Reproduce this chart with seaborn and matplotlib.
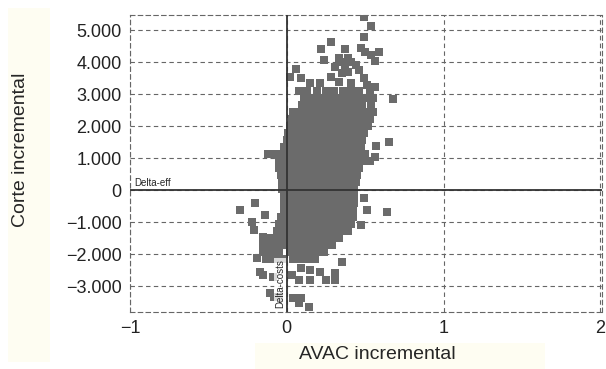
#Librerie
import numpy as np
import pandas as pd
import matplotlib.pyplot as plt
import seaborn as sns
from matplotlib.patches import Rectangle
from matplotlib.ticker import FuncFormatter

#Dati: nuvola centrale per righe (y) e punti sparsi
row_y = [3090, 2880, 2660, 2440, 2220, 2000, 1780, 1560, 1340, 1120, 900, 690,
         470, 250, 30, -190, -410, -620, -840, -1060, -1280, -1500, -1720, -1940, -2160]
row_x = [
    [0.08, 0.13, 0.19, 0.25, 0.30, 0.36, 0.41, 0.46, 0.53],
    [0.11, 0.16, 0.21, 0.26, 0.31, 0.36, 0.40, 0.45, 0.50, 0.55],
    [0.10, 0.14, 0.19, 0.24, 0.29, 0.33, 0.38, 0.43, 0.48, 0.54],
    [0.04, 0.09, 0.14, 0.18, 0.23, 0.28, 0.32, 0.37, 0.42, 0.47, 0.51, 0.55],
    [0.03, 0.07, 0.12, 0.17, 0.21, 0.26, 0.31, 0.35, 0.40, 0.45, 0.49, 0.53],
    [0.02, 0.06, 0.11, 0.15, 0.20, 0.25, 0.30, 0.34, 0.39, 0.43, 0.48, 0.52],
    [0.01, 0.06, 0.10, 0.15, 0.19, 0.24, 0.29, 0.33, 0.38, 0.42, 0.47, 0.49],
    [0.00, 0.05, 0.09, 0.14, 0.19, 0.23, 0.28, 0.32, 0.37, 0.41, 0.45, 0.48],
    [-0.02, 0.02, 0.07, 0.11, 0.16, 0.21, 0.25, 0.30, 0.34, 0.39, 0.43, 0.47],
    [-0.12, -0.09, -0.04, 0.01, 0.06, 0.10, 0.15, 0.19, 0.24, 0.29, 0.33, 0.38, 0.42, 0.46, 0.50],
    [-0.05, -0.01, 0.04, 0.08, 0.13, 0.18, 0.22, 0.27, 0.31, 0.36, 0.41, 0.45, 0.50, 0.53],
    [-0.05, 0.00, 0.05, 0.09, 0.14, 0.19, 0.23, 0.28, 0.32, 0.37, 0.42, 0.46],
    [-0.04, 0.01, 0.05, 0.10, 0.15, 0.19, 0.24, 0.28, 0.33, 0.38, 0.42, 0.45],
    [-0.03, 0.01, 0.06, 0.10, 0.15, 0.20, 0.24, 0.29, 0.33, 0.38, 0.42, 0.44],
    [-0.03, 0.02, 0.06, 0.11, 0.16, 0.20, 0.25, 0.29, 0.34, 0.39, 0.43],
    [-0.02, 0.02, 0.07, 0.11, 0.16, 0.21, 0.25, 0.30, 0.34, 0.39, 0.43],
    [-0.02, 0.03, 0.07, 0.12, 0.17, 0.21, 0.26, 0.30, 0.35, 0.40, 0.43],
    [-0.02, 0.02, 0.07, 0.11, 0.16, 0.21, 0.25, 0.30, 0.34, 0.39, 0.42],
    [-0.04, 0.01, 0.05, 0.10, 0.15, 0.19, 0.24, 0.28, 0.33, 0.38, 0.42],
    [-0.05, 0.00, 0.04, 0.09, 0.14, 0.18, 0.23, 0.27, 0.32, 0.37, 0.41],
    [-0.06, -0.02, 0.03, 0.08, 0.12, 0.17, 0.21, 0.26, 0.31, 0.35, 0.39],
    [-0.14, -0.10, -0.05, 0.00, 0.04, 0.09, 0.14, 0.18, 0.23, 0.28, 0.33],
    [-0.15, -0.11, -0.06, -0.01, 0.03, 0.08, 0.12, 0.17, 0.22, 0.26, 0.29],
    [-0.15, -0.10, -0.05, 0.02, 0.07, 0.11, 0.16, 0.20, 0.24],
    [-0.13, -0.08, -0.03, 0.04, 0.09, 0.14, 0.18],
]
sparse_x = [0.49, 0.54, 0.49, 0.28, 0.22, 0.37, 0.47, 0.50, 0.54, 0.59, 0.56, 0.33,
            0.39, 0.24, 0.31, 0.37, 0.44, 0.35, 0.39, 0.46, 0.06, 0.02, 0.09, 0.15,
            0.21, 0.28, 0.33, 0.41, 0.49, 0.51, 0.56, 0.68, 0.34, 0.41,
            0.65, 0.57, 0.56, 0.64, 0.49, 0.51, 0.47,
            -0.20, -0.14, -0.22, -0.21, -0.15, -0.30, -0.19, -0.14, -0.10, -0.17,
            -0.09, -0.11, -0.08, 0.09, 0.14, -0.15, 0.03, 0.09, 0.15, 0.21, 0.31,
            0.35, 0.08, 0.15, 0.25, 0.31, -0.05, 0.08, 0.04]
sparse_y = [5400, 5120, 4780, 4620, 4410, 4410, 4440, 4310, 4220, 4310, 4030, 4120,
            4120, 4060, 3840, 3910, 3910, 3660, 3690, 3750, 3780, 3530, 3500, 3340,
            3340, 3530, 3380, 3340, 3500, 3280, 3220, 2840, 4000, 4000,
            1500, 1380, 1030, -690, -250, -620, -1090,
            -410, -780, -1000, -1250, -1470, -620, -2120, -1880, -2090, -2560,
            -2720, -3220, -3340, -3380, -3660, -2660, -2660, -2440, -2500, -2560, -2590,
            -2250, -2810, -2810, -2810, -2810, -3340, -3530, -3380]

x_ticks = [-1, 0, 1, 2]
y_ticks = [-3000, -2000, -1000, 0, 1000, 2000, 3000, 4000, 5000]

avac = [x for xs in row_x for x in xs] + sparse_x
corte = [y for y, xs in zip(row_y, row_x) for _ in xs] + sparse_y
df = pd.DataFrame({'avac': avac, 'corte': corte})

sns.set_style('white')
plt.rcParams['font.family'] = ['Liberation Sans', 'DejaVu Sans']

fig = plt.figure(figsize=(6.06, 3.69), dpi=100)
#fondino crema delle etichette
fig.patches.append(Rectangle((8/606, 1-362/369), 42/606, 354/369, transform=fig.transFigure,
                             facecolor='#fefdf2', edgecolor='none', zorder=-1))
fig.patches.append(Rectangle((255/606, 0), 290/606, 26/369, transform=fig.transFigure,
                             facecolor='#fefdf2', edgecolor='none', zorder=-1))

ax = fig.add_axes([130/606, 1-312/369, 472/606, 297/369])
sns.scatterplot(data=df, x='avac', y='corte', marker='s', s=33, color='#6b6b6b',
                linewidth=0, ax=ax, zorder=3)

ax.axhline(0, color='#333333', lw=1.3, zorder=4)
ax.axvline(0, color='#333333', lw=1.3, zorder=4)

ax.set_xlim(-1, 2.01)
ax.set_ylim(-3810, 5470)
ax.set_xticks(x_ticks)
ax.set_yticks(y_ticks)
ax.xaxis.set_major_formatter(FuncFormatter(lambda v, p: f'{v:.0f}'.replace('-', '\u2212')))
ax.yaxis.set_major_formatter(FuncFormatter(
    lambda v, p: f'{v:,.0f}'.replace(',', '.').replace('-', '\u2212')))
ax.tick_params(axis='both', labelsize=13, length=4, color='#777777', labelcolor='#222222', pad=2)
ax.grid(True, color='#666666', linestyle=(0, (4, 3)), linewidth=0.8, zorder=1)
ax.set_axisbelow(True)
for s in ax.spines.values():
    s.set_linestyle((0, (4, 3)))
    s.set_color('#666666')
    s.set_linewidth(0.8)

ax.set_xlabel('AVAC incremental', fontsize=14)
ax.set_ylabel('Corte incremental', fontsize=14)
ax.xaxis.set_label_coords(0.525, -0.115)
ax.yaxis.set_label_coords(-0.215, 0.545)

ax.text(-0.97, 60, 'Delta-eff', fontsize=7, ha='left', va='bottom', zorder=5)
ax.text(-0.012, -3680, 'Delta-costs', fontsize=7, rotation=90, ha='right', va='bottom', zorder=5,
        bbox=dict(facecolor='white', edgecolor='none', alpha=0.75, pad=0.6))

plt.savefig('out.png', dpi=100)
